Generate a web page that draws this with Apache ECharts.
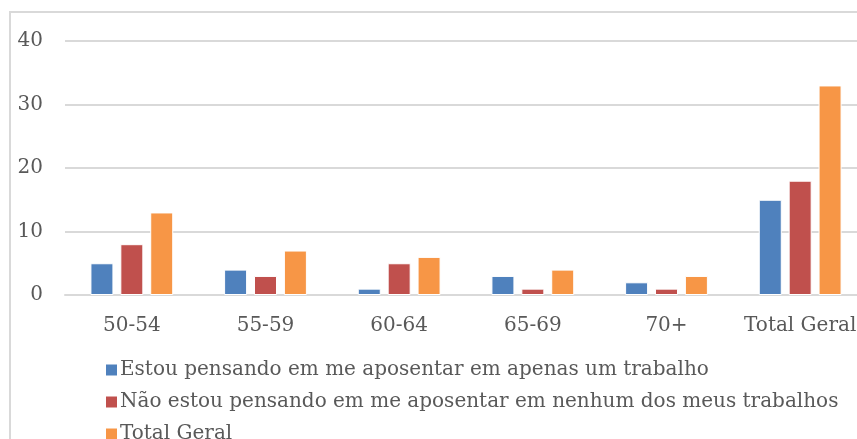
<!DOCTYPE html>
<html><head><meta charset="utf-8">
<script src="https://cdn.jsdelivr.net/npm/echarts@6/dist/echarts.min.js"></script>
<style>html,body{margin:0;padding:0;background:#fff}#c{width:857px;height:439px}</style>
</head><body><div id="c"></div>
<script>
const categories = ['50-54', '55-59', '60-64', '65-69', '70+', 'Total Geral'];
const seriesNames = [
  'Estou pensando em me aposentar em apenas um trabalho',
  'Não estou pensando em me aposentar em nenhum dos meus trabalhos',
  'Total Geral'
];
const apenasUm = [5, 4, 1, 3, 2, 15];
const nenhum = [8, 3, 5, 1, 1, 18];
const totalGeral = [13, 7, 6, 4, 3, 33];
const colors = ['#4F81BD', '#C0504D', '#F79646'];
const FONT = 'DejaVu Serif';
const chart = echarts.init(document.getElementById('c'));
const mk = (name, data, i) => ({
  name, type: 'bar', data, barWidth: 23, barGap: '30%',
  itemStyle: { color: colors[i], borderColor: '#ffffff', borderWidth: 1 }
});
const legends = seriesNames.map((n, i) => ({
  orient: 'vertical', left: 99, top: 355 + i * 32, itemWidth: 13, itemHeight: 13,
  icon: 'rect', selectedMode: false,
  textStyle: { color: '#595959', fontFamily: FONT, fontSize: 20, padding: [0, 0, 0, -3] },
  data: [n]
}));
chart.setOption({
  animation: false,
  graphic: [{ type: 'rect', shape: { x: 10, y: 12, width: 900, height: 500 }, style: { fill: 'none', stroke: '#d9d9d9', lineWidth: 2 } }],
  grid: { left: 65, top: 41, width: 802, height: 254, containLabel: false, outerBoundsMode: 'none' },
  xAxis: {
    type: 'category', data: categories,
    axisLine: { lineStyle: { color: '#d9d9d9', width: 2 } },
    axisTick: { show: false },
    axisLabel: { color: '#595959', fontFamily: FONT, fontSize: 20, margin: 21, interval: 0, hideOverlap: false }
  },
  yAxis: {
    type: 'value', min: 0, max: 40, interval: 10,
    splitLine: { lineStyle: { color: '#d9d9d9', width: 2 } },
    axisLabel: { color: '#595959', fontFamily: FONT, fontSize: 20, margin: 22 }
  },
  legend: legends,
  series: [mk(seriesNames[0], apenasUm, 0), mk(seriesNames[1], nenhum, 1), mk(seriesNames[2], totalGeral, 2)]
});
</script></body></html>
